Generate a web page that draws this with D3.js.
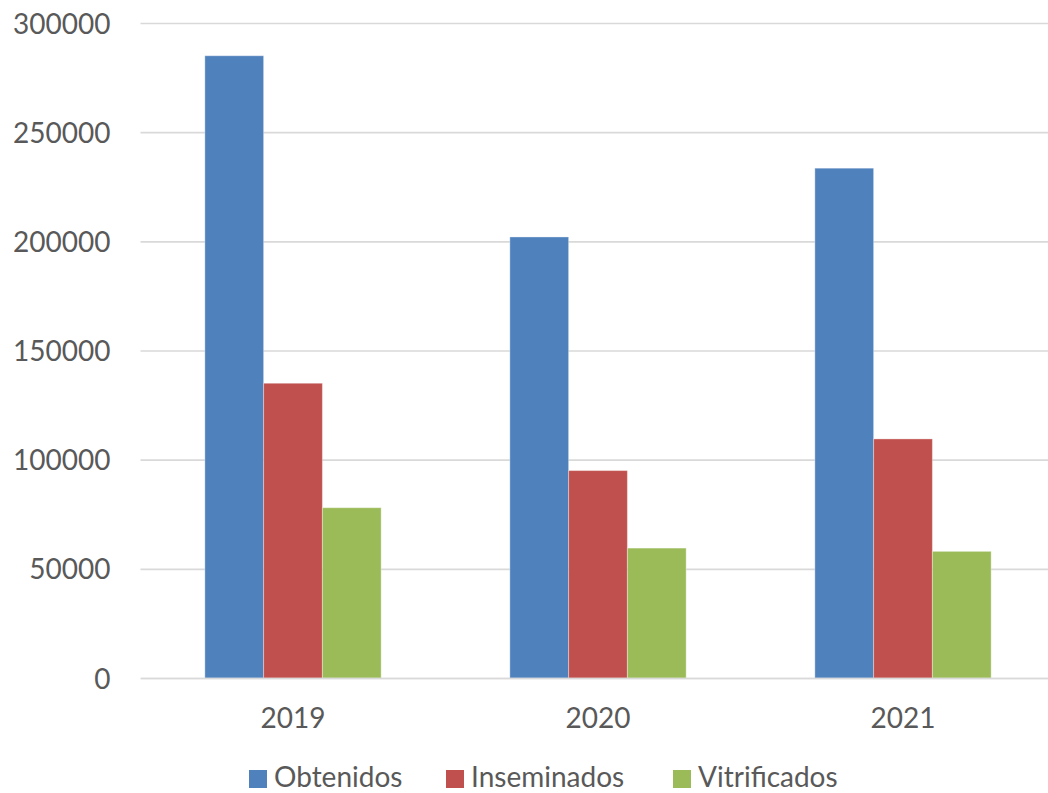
<!DOCTYPE html>
<html><head><meta charset="utf-8">
<script src="https://cdn.jsdelivr.net/npm/d3@7"></script>
<style>html,body{margin:0;padding:0;background:#fff;overflow:hidden}</style>
</head><body>
<svg id="chart" width="1048" height="793"></svg>
<script>
const categories = ["2019", "2020", "2021"];
const seriesNames = ["Obtenidos", "Inseminados", "Vitrificados"];
const obtenidos = [285000, 202000, 233500];
const inseminados = [135000, 95000, 109500];
const vitrificados = [78000, 59500, 58000];
const yTicks = [0, 50000, 100000, 150000, 200000, 250000, 300000];
const colors = ["#4F81BD", "#C0504D", "#9BBB59"];

const seriesValues = [obtenidos, inseminados, vitrificados];
const svg = d3.select("#chart");
const font = "Lato, 'Open Sans', sans-serif";
const textColor = "#595959";

const plotLeft = 140.5, plotRight = 1055.5, plotTop = 23, plotBottom = 678;
const x = d3.scaleBand().domain(categories).range([plotLeft, plotRight]).paddingInner(0).paddingOuter(0);
const y = d3.scaleLinear().domain([0, 300000]).range([plotBottom, plotTop]);
const barW = x.bandwidth() / (3 + 2.19);
const x1 = d3.scaleBand().domain(seriesNames).range([0, barW * 3]);

// gridlines
const yAxis = d3.axisLeft(y).tickValues(yTicks).tickSize(-(plotRight - plotLeft)).tickPadding(30).tickFormat(d => String(d));
const gy = svg.append("g").attr("transform", `translate(${plotLeft},0)`).call(yAxis);
gy.select(".domain").remove();
gy.selectAll(".tick line").attr("stroke", "#d9d9d9").attr("stroke-width", 1.6);
gy.selectAll(".tick text").attr("fill", textColor).style("font-family", font).style("font-size", "28px").attr("dy", "0.36em");

// bars
const groups = svg.append("g").selectAll("g").data(categories).join("g")
  .attr("transform", d => `translate(${x(d) + (x.bandwidth() - barW * 3) / 2},0)`);
groups.selectAll("rect").data((c, i) => seriesNames.map((s, k) => ({s, v: seriesValues[k][i], k})))
  .join("rect")
  .attr("x", d => x1(d.s))
  .attr("width", x1.bandwidth())
  .attr("y", d => y(d.v))
  .attr("height", d => plotBottom - y(d.v))
  .attr("fill", d => colors[d.k])
  .attr("stroke", "rgba(255,255,255,0.35)")
  .attr("stroke-width", 1);

// x axis
const xAxis = d3.axisBottom(x).tickSize(0).tickPadding(30);
const gx = svg.append("g").attr("transform", `translate(0,${plotBottom})`).call(xAxis);
gx.select(".domain").attr("stroke", "#d9d9d9").attr("stroke-width", 1.6);
gx.selectAll(".tick text").attr("fill", textColor).style("font-family", font).style("font-size", "28px").attr("dy", "0.71em");

// legend
const legendX = [249, 446, 673];
const lg = svg.append("g").selectAll("g").data(seriesNames).join("g")
  .attr("transform", (d, i) => `translate(${legendX[i]},0)`);
lg.append("rect").attr("x", 0).attr("y", 770).attr("width", 18).attr("height", 18).attr("fill", (d, i) => colors[i]);
lg.append("text").attr("x", 25).attr("y", 787).text(d => d)
  .attr("fill", textColor).style("font-family", font).style("font-size", "28px").attr("textLength", null);
</script>
</body></html>
